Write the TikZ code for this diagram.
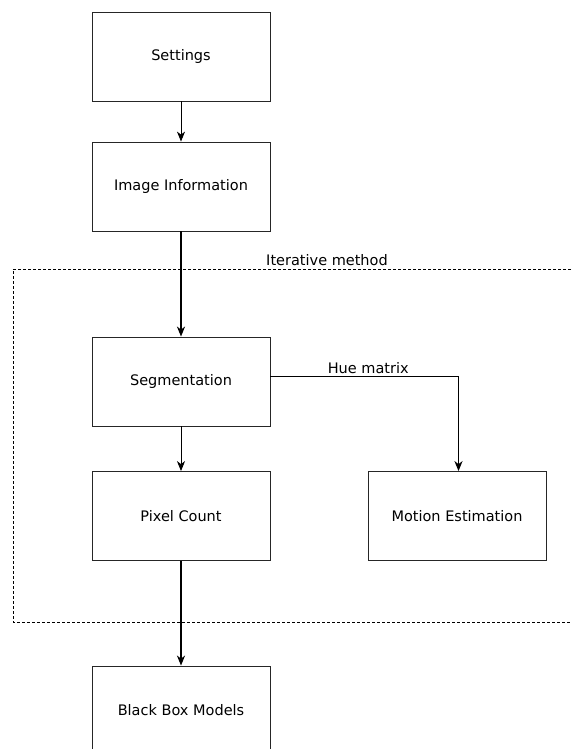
\documentclass[tikz,border=0pt]{standalone}
\usepackage{fontspec}
\setmainfont{DejaVu Sans}
\usetikzlibrary{
        arrows.meta,
        positioning
    }
\tikzset{>={Stealth[length=10pt,width=8pt,inset=3pt]},auto,node distance=130pt}
\tikzset{block/.style={draw=black!85,line width=0.8pt,minimum width=178pt,minimum height=89pt,font=\fontsize{14.5}{16}\selectfont}}
\tikzset{lbl/.style={font=\fontsize{14.5}{16}\selectfont}}

\begin{document}
\begin{tikzpicture}[x=1pt,y=1pt]
                    \tikzset{thin arrow/.style={line width=0.9pt},thick arrow/.style={line width=1.5pt}}
                    \useasboundingbox (0,0) rectangle (571,-749);
                        % iterative loop frame
                        \draw[dash pattern=on 3pt off 2pt,line width=0.8pt] (571,-269) -- (13,-269) -- (13,-622) -- (571,-622);
                        \node[lbl] (iter) at (327,-260) {Iterative method};
                        \node[block] (set) at (181,-56.5) {Settings};
                        \node[block] (img) [below of=set] {Image Information};
                        \node[block] (seg) [below of=img,node distance=195pt] {Segmentation};
                        \node[block] (pix) [below of=seg,node distance=134.5pt] {Pixel Count};
                        \node[block] (mot) [right of=pix,node distance=276pt] {Motion Estimation};
                        \node[block] (bbm) [below of=pix,node distance=194.5pt] {Black Box Models};
                    \path[->]
                            (set)  edge[thin arrow]  (img)
                            (img)  edge[thick arrow]  (seg)
                            (seg)  edge[thin arrow]  (pix)
                            (pix)  edge[thick arrow]  (bbm)
                            (seg.east) ++(0,5) coordinate (hue)
                            ;
                    \draw[->,line width=1.5pt] (hue) -| node[lbl,pos=0.26,above=-1pt] {Hue matrix} ([xshift=1.5pt]mot.north);
            \end{tikzpicture}
\end{document}
